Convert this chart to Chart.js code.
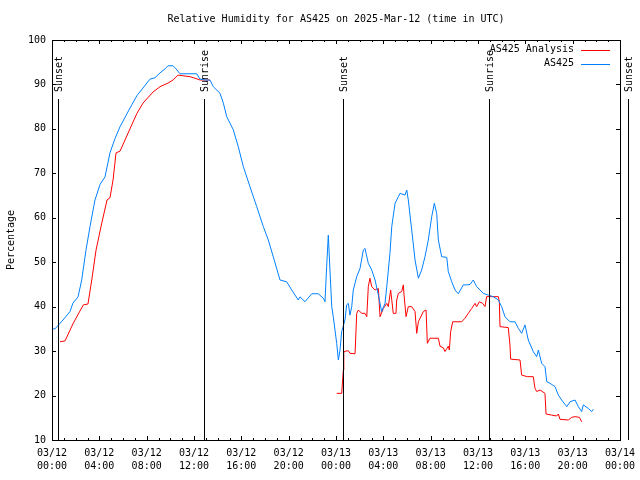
<!DOCTYPE html>
<html>
<head>
<meta charset="utf-8">
<script src="https://cdn.jsdelivr.net/npm/chart.js@4.4.1/dist/chart.umd.min.js"></script>
<style>
  html, body { margin: 0; padding: 0; background: #fff; }
  canvas { display: block; }
</style>
</head>
<body>
<canvas id="chart" width="640" height="480"></canvas>
<script>
// hours since 2025-03-12 00:00 UTC
var analysisHours = [0.68, 1.1, 1.8, 2.65, 3.04, 3.36, 3.72, 4.14, 4.65, 4.9, 5.16, 5.41, 5.75, 6.17, 6.74, 7.18, 7.69, 8.54, 9.13, 9.8, 10.23, 10.65, 11.66, 12.08, 12.51, 13.35,
  18,
  24.06, 24.48, 24.62, 24.66, 25.04, 25.18, 25.61, 25.75, 25.89, 26.17, 26.45, 26.6, 26.73, 26.87, 27.02, 27.3, 27.58, 27.72, 28, 28.29, 28.42, 28.62, 28.84, 29.07, 29.13, 29.27, 29.55, 29.69, 29.75, 29.92, 30.11, 30.4, 30.68, 30.82, 30.96, 31.38, 31.61, 31.72, 31.94, 32.65, 32.79, 33.07, 33.21, 33.49, 33.58, 33.69, 33.86, 34.62, 34.9, 35.18, 35.47, 35.75, 35.89, 36.11, 36.4, 36.59, 36.73, 37.72, 37.8, 37.86, 38.56, 38.7, 38.76, 39.55, 39.69, 40.17, 40.67, 40.82, 40.96, 41.24, 41.66, 41.75, 42.23, 42.65, 42.79, 42.93, 43.63, 43.92, 44.2, 44.57, 44.76];
var analysisValues = [32.1, 32.3, 36.3, 40.4, 40.6, 46, 52.7, 58, 64, 64.5, 68.5, 74.6, 75, 77.5, 80.9, 83.5, 85.8, 88.3, 89.5, 90.3, 91, 92.1, 91.75, 91.4, 91, 91,
  null,
  20.5, 20.5, 25.75, 29.9, 30.1, 29.5, 29.4, 38.5, 39.25, 38.5, 38.5, 37.75, 44.5, 46.4, 44.5, 43.75, 44.1, 37.75, 39.6, 40.75, 40, 43.75, 38.5, 38.5, 41.5, 43, 43.4, 44.9, 42.6, 37.75, 40, 40, 38.9, 34, 36.6, 38.9, 39.25, 31.75, 32.9, 32.9, 31.1, 30.75, 29.9, 31.1, 30.25, 34.4, 36.6, 36.6, 37.4, 38.5, 39.6, 40.75, 40, 41.1, 40.75, 40, 42.25, 42.25, 41.1, 35.5, 35.3, 31.4, 28.2, 28, 24.6, 24.25, 24.25, 21.6, 20.9, 21.25, 20.5, 15.85, 15.6, 15.4, 15.85, 14.65, 14.5, 15.1, 15.25, 15.1, 14.1];

var stationHours = [0, 0.25, 0.93, 1.52, 1.77, 2.2, 2.51, 2.87, 3.21, 3.63, 4.06, 4.48, 4.9, 5.32, 5.75, 6.25, 6.74, 7.18, 7.69, 8.28, 8.7, 9.13, 9.55, 9.8, 10.23, 10.48, 10.82, 11.66, 12.23, 12.51, 12.93, 13.35, 13.63, 14.2, 14.48, 14.76, 15.32, 15.74, 16.17, 16.73, 17.3, 17.86, 18.28, 18.7, 19.27, 19.83, 20.26, 20.81, 20.96, 21.38, 21.95, 22.5, 22.93, 23.07, 23.21, 23.35, 23.49, 23.64, 23.77, 24.06, 24.2, 24.34, 24.48, 24.76, 24.9, 25.04, 25.18, 25.33, 25.46, 25.75, 26.03, 26.31, 26.45, 26.73, 27.02, 27.3, 27.58, 27.86, 28.14, 28.29, 28.56, 28.71, 28.99, 29.27, 29.41, 29.83, 29.98, 30.11, 30.4, 30.68, 30.96, 31.24, 31.52, 31.8, 32.09, 32.31, 32.51, 32.65, 32.93, 33.36, 33.49, 33.78, 34.06, 34.34, 34.76, 35.05, 35.33, 35.6, 35.89, 36.17, 36.45, 36.87, 37.29, 37.72, 38, 38.28, 38.7, 39.13, 39.41, 39.69, 39.97, 40.25, 40.67, 40.96, 41.1, 41.38, 41.66, 41.81, 42.09, 42.51, 42.79, 43.07, 43.5, 43.78, 44.2, 44.48, 44.76, 44.9, 45.32, 45.61, 45.74];
var stationValues = [35, 35, 37, 38.9, 40.8, 42.2, 46, 52.7, 58, 64, 67.5, 69.2, 74.6, 77.8, 80.5, 83, 85.4, 87.5, 89.2, 91.2, 91.5, 92.6, 93.5, 94.2, 94.2, 93.5, 92.4, 92.4, 92.4, 91.2, 91, 91, 89.5, 88, 85.8, 82.8, 79.8, 76, 71.5, 67, 62.5, 58, 55, 51.2, 46, 45.6, 43.75, 41.5, 42.2, 41.1, 42.9, 42.9, 41.9, 41.1, 49, 56.1, 48.25, 40, 37.75, 31.75, 28, 30.25, 34.4, 37, 40.4, 40.75, 38.1, 40, 43.75, 46.75, 48.6, 52.75, 53.1, 49.75, 48.25, 46, 42.6, 38.9, 40.75, 44.5, 52, 58, 63.25, 64.75, 65.5, 65.1, 66.25, 64, 57.25, 50.5, 46.4, 48.25, 51.25, 55, 60.25, 63.25, 61, 55, 51.25, 51.1, 47.9, 45.6, 43.75, 42.9, 44.9, 44.9, 45, 46, 44.5, 43.75, 43, 42.6, 42.25, 41.5, 40, 37.75, 36.6, 36.6, 35.1, 34, 35.9, 32.5, 29.9, 28.75, 30.25, 27.25, 26.5, 23.1, 22.75, 22, 20.1, 19, 17.5, 18.6, 19, 17.5, 16.4, 17.9, 17.1, 16.4, 16.9];

var dayLabels = ['03/12', '03/12', '03/12', '03/12', '03/12', '03/12', '03/13', '03/13', '03/13', '03/13', '03/13', '03/13', '03/14'];
var clockLabels = ['00:00', '04:00', '08:00', '12:00', '16:00', '20:00', '00:00', '04:00', '08:00', '12:00', '16:00', '20:00', '00:00'];

var sunHours = [0.53, 12.87, 24.59, 36.89, 48.7];
var sunLabels = ['Sunset', 'Sunrise', 'Sunset', 'Sunrise', 'Sunset'];

const FONT = '"DejaVu Sans Mono", "Liberation Mono", monospace';

function toPoints(hours, values) {
    return hours.map((h, i) => ({x: h, y: values[i]}));
}

// gnuplot-like frame: border, inward ticks, sunrise/sunset markers, legend
const frame = {
    id: 'frame',
    afterDatasetsDraw(chart) {
        const ctx = chart.ctx;
        const a = chart.chartArea;
        const xs = chart.scales.x;
        const ys = chart.scales.y;
        ctx.save();
        ctx.strokeStyle = '#000';
        ctx.fillStyle = '#000';
        ctx.lineWidth = 1;
        ctx.font = '10px ' + FONT;

        sunHours.forEach((h, i) => {
            const px = Math.round(xs.getPixelForValue(h)) + 0.5;
            ctx.beginPath();
            ctx.moveTo(px, 99);
            ctx.lineTo(px, a.bottom);
            ctx.stroke();
            ctx.save();
            ctx.translate(px + 1, 92);
            ctx.rotate(-Math.PI / 2);
            ctx.textAlign = 'left';
            ctx.textBaseline = 'middle';
            ctx.fillText(sunLabels[i], 0, 0);
            ctx.restore();
        });

        ctx.strokeRect(Math.round(a.left) + 0.5, Math.round(a.top) + 0.5, Math.round(a.width), Math.round(a.height));

        ctx.beginPath();
        for (let h = 0; h <= 48; h++) {
            const px = Math.round(xs.getPixelForValue(h)) + 0.5;
            const len = h % 4 === 0 ? 4 : 2;
            ctx.moveTo(px, a.bottom);
            ctx.lineTo(px, a.bottom - len);
            ctx.moveTo(px, a.top);
            ctx.lineTo(px, a.top + len);
        }
        for (let v = 10; v <= 100; v += 10) {
            const py = Math.round(ys.getPixelForValue(v)) + 0.5;
            ctx.moveTo(a.left, py);
            ctx.lineTo(a.left + 4, py);
            ctx.moveTo(a.right, py);
            ctx.lineTo(a.right - 4, py);
        }
        ctx.stroke();

        // legend
        chart.data.datasets.forEach((ds, i) => {
            const y = 49.5 + i * 14;
            ctx.textAlign = 'right';
            ctx.textBaseline = 'middle';
            ctx.fillStyle = '#000';
            ctx.fillText(ds.label, 574, y);
            ctx.strokeStyle = ds.borderColor;
            ctx.beginPath();
            ctx.moveTo(581, Math.round(y) + 0.5);
            ctx.lineTo(610, Math.round(y) + 0.5);
            ctx.stroke();
        });
        ctx.restore();
    }
};

new Chart(document.getElementById('chart'), {
    type: 'line',
    data: {
        datasets: [{
            label: 'AS425 Analysis',
            data: toPoints(analysisHours, analysisValues),
            borderColor: '#ff0000',
            borderWidth: 1,
            pointRadius: 0,
            tension: 0,
            order: 1
        }, {
            label: 'AS425',
            data: toPoints(stationHours, stationValues),
            borderColor: '#0080ff',
            borderWidth: 1,
            pointRadius: 0,
            tension: 0,
            order: 0
        }]
    },
    options: {
        responsive: false,
        animation: false,
        devicePixelRatio: 1,
        layout: { padding: { right: 20 } },
        plugins: {
            legend: { display: false },
            tooltip: { enabled: false },
            title: {
                display: true,
                fullSize: false,
                text: 'Relative Humidity for AS425 on 2025-Mar-12 (time in UTC)',
                color: '#000',
                font: { family: FONT, size: 10, weight: 'normal', lineHeight: 1.2 },
                padding: { top: 13, bottom: 15 }
            }
        },
        scales: {
            x: {
                type: 'linear',
                min: 0,
                max: 48,
                afterFit: s => { s.height = 40; s.paddingLeft = 0; s.paddingRight = 0; },
                grid: { display: false, drawTicks: false },
                border: { display: false },
                ticks: {
                    stepSize: 4,
                    autoSkip: false,
                    maxRotation: 0,
                    padding: 7,
                    color: '#000',
                    font: { family: FONT, size: 10, lineHeight: 1.3 },
                    callback: v => [dayLabels[v / 4], clockLabels[v / 4]]
                }
            },
            y: {
                min: 10,
                max: 100,
                afterFit: s => { s.width = 52; },
                grid: { display: false, drawTicks: false },
                border: { display: false },
                ticks: {
                    stepSize: 10,
                    padding: 6,
                    color: '#000',
                    font: { family: FONT, size: 10 }
                },
                title: {
                    display: true,
                    text: 'Percentage',
                    color: '#000',
                    padding: { top: 5 },
                    font: { family: FONT, size: 10, lineHeight: 1.2 }
                }
            }
        }
    },
    plugins: [frame]
});
</script>
</body>
</html>
